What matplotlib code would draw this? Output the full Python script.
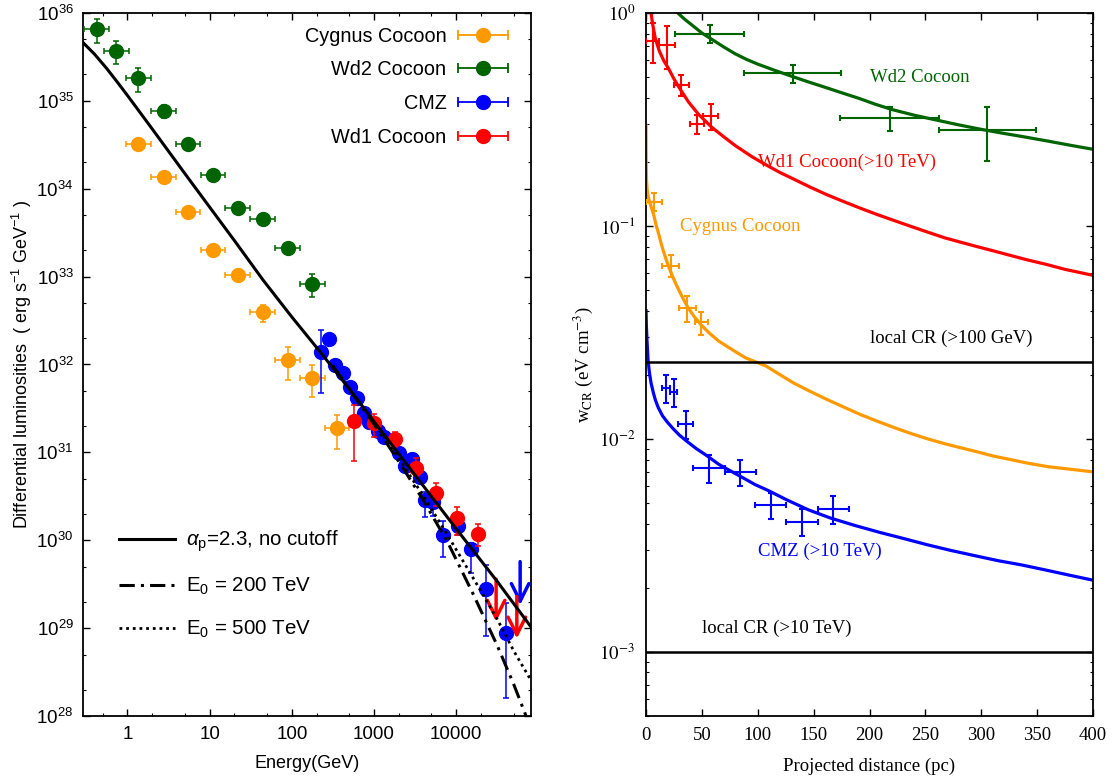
import matplotlib
matplotlib.use("Agg")
import matplotlib.pyplot as plt
from matplotlib.container import ErrorbarContainer
from matplotlib.legend_handler import HandlerBase
from matplotlib.lines import Line2D
from matplotlib.ticker import LogLocator, NullFormatter, FixedLocator, MultipleLocator, NullLocator

plt.rcParams['font.family'] = ['Liberation Sans', 'DejaVu Sans']
plt.rcParams['mathtext.fontset'] = 'custom'
plt.rcParams['mathtext.rm'] = 'Liberation Sans'
plt.rcParams['mathtext.it'] = 'Liberation Sans:italic'
plt.rcParams['mathtext.bf'] = 'Liberation Sans:bold'
plt.rcParams['mathtext.sf'] = 'Liberation Sans'
SERIF = ['Liberation Serif', 'DejaVu Serif']

ORANGE = '#ff9900'
GREEN = '#006400'
BLUE = '#0000ff'
RED = '#ff0000'

# ---------------- left panel data (energy in GeV, luminosity in erg/s/GeV) ----------------
bin_halfwidth_dex = 0.15

cyg_E = [1.36, 2.75, 5.47, 11.0, 22.0, 44.0, 89.0, 177.0, 355.0]
cyg_L = [3.24e34, 1.36e34, 5.4e33, 2.03e33, 1.05e33, 3.93e32, 1.12e32, 7.1e31, 1.87e31]
cyg_Lerr = [1.6e33, 7e32, 3e32, 1.2e32, 6e31, 8.6e31, 4.5e31, 2.85e31, 7.7e30]

wd2_E = [0.42, 0.73, 1.36, 2.75, 5.47, 11.0, 22.0, 44.0, 89.0, 177.0]
wd2_L = [6.5e35, 3.7e35, 1.8e35, 7.7e34, 3.26e34, 1.44e34, 6.0e33, 4.5e33, 2.1e33, 8.2e32]
wd2_Lerr = [2.0e35, 1.1e35, 5.4e34, 1.3e34, 2.6e33, 1.2e33, 5e32, 3.6e32, 1.7e32, 2.4e32]

cmz_E = [225, 285, 333, 415, 508, 625, 750, 865, 1110, 1310, 2000, 2400, 2890, 3630,
         4190, 5250, 6980, 10550, 15000, 23200, 40200]
cmz_L = [1.40e32, 1.97e32, 9.8e31, 7.95e31, 5.55e31, 4.2e31, 2.8e31, 2.2e31, 1.75e31, 1.48e31,
         9.8e30, 6.9e30, 8.4e30, 5.2e30, 2.9e30, 2.7e30, 1.14e30, 1.45e30, 7.9e29, 2.82e29, 8.7e28]
cmz_Llo = [9.3e31, 1.2e31, 6e30, 5e30, 4e30, 3e30, 2e30, 1.6e30, 1.2e30, 1e30, 8e29, 6e29,
           7e29, 6e29, 1.05e30, 8e29, 5e29, 3e29, 3.7e29, 2.0e29, 7.1e28]
cmz_Lhi = [1.08e32, 1.2e31, 6e30, 5e30, 4e30, 3e30, 2e30, 1.6e30, 1.2e30, 1e30, 8e29, 6e29,
           7e29, 6e29, 6e29, 6e29, 5e29, 3e29, 1.4e29, 2.4e29, 1.05e29]

wd1_E = [564, 1010, 1800, 3220, 5700, 10200, 18200]
wd1_L = [2.29e31, 2.16e31, 1.40e31, 6.7e30, 3.45e30, 1.80e30, 1.19e30]
wd1_Llo = [1.5e31, 6.6e30, 2.5e30, 1.3e30, 1.0e30, 6.5e29, 3.2e29]
wd1_Lhi = [1.17e31, 6e30, 3e30, 1.9e30, 1.0e30, 5.8e29, 3.4e29]

# upper limits (start value, arrow tip)
cmz_ul_E = [60000]
cmz_ul_L = [5.7e29]
cmz_ul_tip = [1.83e29]
wd1_ul_E = [30600, 54700]
wd1_ul_L = [3.6e29, 2.28e29]
wd1_ul_tip = [1.18e29, 7.6e28]

# model curves
nocut_E = [0.29, 0.398, 0.562, 0.794, 1.0, 2.0, 5.01, 10.0, 20.0, 44.7, 100.0, 227.0, 501.0,
           1000.0, 3162.0, 1.0e4, 3.16e4, 8.2e4]
nocut_L = [4.57e35, 3.39e35, 2.32e35, 1.53e35, 1.15e35, 4.79e34, 1.48e34, 6.17e33, 2.57e33,
           9.12e32, 3.47e32, 1.35e32, 5.25e31, 2.24e31, 5.50e30, 1.35e30, 3.39e29, 1.02e29]
cut200_E = [316, 1000, 1995, 3981, 7943, 15849, 31623, 50119, 70795]
cut200_L = [9.6e31, 2.1e31, 7.9e30, 2.85e30, 9.33e29, 2.51e29, 6.31e28, 2.29e28, 1.0e28]
cut500_E = [316, 1000, 1995, 3981, 7943, 15849, 31623, 50119, 82000]
cut500_L = [9.7e31, 2.2e31, 8.5e30, 3.2e30, 1.12e30, 3.80e29, 1.26e29, 5.50e28, 2.51e28]

# ---------------- right panel data (distance in pc, w_CR in eV/cm^3) ----------------
wd2_d = [56.9, 131.1, 218.0, 305.5]
wd2_w = [0.80, 0.521, 0.32, 0.281]
wd2_derr = [30.8, 43.6, 44.0, 43.7]
wd2_werr = [0.08, 0.05, 0.04, 0.08]

wd1_d = [6.0, 18.9, 31.7, 45.8, 57.8]
wd1_w = [0.741, 0.707, 0.459, 0.301, 0.329]
wd1_derr = [5.7, 7.0, 6.6, 6.4, 6.4]
wd1_werr = [0.16, 0.16, 0.05, 0.032, 0.046]

cyg_d = [6.95, 22.1, 37.0, 49.6]
cyg_w = [0.130, 0.0651, 0.041, 0.0352]
cyg_derr = [7.0, 7.4, 7.6, 6.0]
cyg_werr = [0.013, 0.0078, 0.0057, 0.0043]

cmz_d = [17.7, 24.6, 35.4, 56.2, 84.4, 111.5, 139.6, 167.5]
cmz_w = [0.0174, 0.01667, 0.01176, 0.00729, 0.00698, 0.0049, 0.00409, 0.00469]
cmz_derr = [3.6, 3.5, 7.0, 14.2, 13.8, 13.8, 14.0, 14.0]
cmz_werr = [0.0026, 0.0025, 0.0018, 0.0011, 0.001, 0.00068, 0.0006, 0.0007]

wd2_curve_d = [28.4, 35, 42, 50, 60, 70, 80, 90, 100, 115, 130, 145, 160, 175, 190, 205, 220,
               240, 260, 280, 300, 320, 340, 360, 380, 400]
wd2_curve_w = [1.0, 0.93, 0.87, 0.805, 0.745, 0.69, 0.642, 0.605, 0.575, 0.538, 0.505, 0.475,
               0.448, 0.422, 0.398, 0.373, 0.352, 0.331, 0.314, 0.298, 0.284, 0.272, 0.261,
               0.250, 0.239, 0.229]

wd1_curve_d = [4.5, 6, 8.4, 12, 16, 20, 25, 30, 38, 47, 59, 70, 80, 95, 107, 120, 132, 147, 162,
               177, 192, 207, 222, 237, 252, 267, 281, 296, 311, 326, 341, 358, 375, 400]
wd1_curve_w = [1.0, 0.88, 0.755, 0.66, 0.595, 0.55, 0.49, 0.443, 0.382, 0.334, 0.290, 0.261,
               0.238, 0.211, 0.194, 0.178, 0.166, 0.152, 0.140, 0.130, 0.121, 0.113, 0.106,
               0.0995, 0.0935, 0.0880, 0.0840, 0.0800, 0.0763, 0.0727, 0.0693, 0.0660, 0.0625,
               0.0586]

cyg_curve_d = [0, 0.15, 0.4, 1, 2, 3.5, 5, 7, 9, 11.4, 14, 17.4, 20, 23.4, 27, 32.3, 37, 42.8,
               50, 56.3, 65, 74.3, 82, 89.2, 98, 107.2, 120, 132, 147, 162, 177, 192, 207, 222,
               237, 252, 267, 281, 296, 311, 326, 341, 360, 380, 400]
cyg_curve_w = [0.297, 0.2, 0.165, 0.148, 0.137, 0.128, 0.121, 0.112, 0.101, 0.0914, 0.081,
               0.071, 0.065, 0.0585, 0.053, 0.0465, 0.0418, 0.0377, 0.0340, 0.0315, 0.0288,
               0.0268, 0.0253, 0.0240, 0.0230, 0.0220, 0.0200, 0.0183, 0.0167, 0.0153, 0.0141,
               0.0130, 0.0121, 0.0113, 0.0106, 0.0100, 0.0095, 0.0091, 0.0087, 0.0083, 0.0080,
               0.0077, 0.0074, 0.0072, 0.0070]

cmz_curve_d = [0, 0.3, 0.9, 1.8, 3, 4.5, 6.5, 8.4, 11, 14.9, 19, 24, 30, 37, 45, 55, 65, 75, 86,
               97.6, 110, 125, 145, 165, 187, 209, 231, 252, 272, 294, 315, 336, 358, 379, 400]
cmz_curve_w = [0.040, 0.034, 0.0288, 0.0235, 0.0205, 0.0183, 0.0165, 0.0152, 0.0140, 0.0128,
               0.0120, 0.0112, 0.0104, 0.0097, 0.0090, 0.0083, 0.0076, 0.0071, 0.0066, 0.0061,
               0.0057, 0.0052, 0.00465, 0.00425, 0.00392, 0.00364, 0.00340, 0.00318, 0.00300,
               0.00283, 0.00268, 0.00256, 0.00242, 0.00229, 0.00217]

local_cr_levels = [0.023, 0.001]
local_cr_labels = ['local CR (>100 GeV)', 'local CR (>10 TeV)']
local_cr_label_pos = [(200.0, 0.0295), (50.0, 0.00129)]

curve_labels = ['Wd2 Cocoon', 'Wd1 Cocoon(>10 TeV)', 'Cygnus Cocoon', 'CMZ (>10 TeV)']
curve_label_pos = [(200.7, 0.498), (100.0, 0.1986), (30.2, 0.0989), (99.8, 0.00297)]
curve_label_colors = [GREEN, RED, ORANGE, BLUE]


class CapHandler(HandlerBase):
    # gnuplot-style key sample: horizontal bar with end caps and a dot in the middle
    def create_artists(self, legend, orig_handle, xdescent, ydescent, width, height, fontsize, trans):
        c = orig_handle[0].get_color()
        y = height / 2 - ydescent
        x0, x1 = -xdescent, -xdescent + width
        bar = Line2D([x0, x1], [y, y], color=c, lw=1.3)
        caps = Line2D([x0, x1], [y, y], ls='none', marker='|', ms=7, mew=1.3, color=c)
        dot = Line2D([(x0 + x1) / 2], [y], ls='none', marker='o', ms=10, color=c)
        for a in (bar, caps, dot):
            a.set_transform(trans)
        return [bar, caps, dot]


def xerr_dex(E, dex):
    return [[e * (1 - 10 ** -dex) for e in E], [e * (10 ** dex - 1) for e in E]]


fig = plt.figure(figsize=(11.15, 7.8), dpi=100)
axL = fig.add_axes([0.0747, 0.0821, 0.4018, 0.9013])
axR = fig.add_axes([0.5794, 0.0821, 0.4009, 0.9013])

# ---------------- left panel ----------------
ekw = dict(fmt='o', ms=10, elinewidth=1.1, capsize=2.2, capthick=1.1)
h_cyg = axL.errorbar(cyg_E, cyg_L, xerr=xerr_dex(cyg_E, bin_halfwidth_dex), yerr=cyg_Lerr,
                     color=ORANGE, zorder=3, **ekw)
h_wd2 = axL.errorbar(wd2_E, wd2_L, xerr=xerr_dex(wd2_E, bin_halfwidth_dex), yerr=wd2_Lerr,
                     color=GREEN, zorder=3, **ekw)
h_cmz = axL.errorbar(cmz_E, cmz_L, yerr=[cmz_Llo, cmz_Lhi], color=BLUE, zorder=3, **ekw)
h_wd1 = axL.errorbar(wd1_E, wd1_L, yerr=[wd1_Llo, wd1_Lhi], color=RED, zorder=3.1, **ekw)

for E, L0, L1 in zip(cmz_ul_E, cmz_ul_L, cmz_ul_tip):
    axL.annotate('', xy=(E, L1), xytext=(E, L0),
                 arrowprops=dict(arrowstyle='->,head_length=0.7,head_width=0.35', color=BLUE,
                                 lw=2.5, shrinkA=0, shrinkB=0, mutation_scale=18), zorder=4)
for E, L0, L1 in zip(wd1_ul_E, wd1_ul_L, wd1_ul_tip):
    axL.annotate('', xy=(E, L1), xytext=(E, L0),
                 arrowprops=dict(arrowstyle='->,head_length=0.7,head_width=0.35', color=RED,
                                 lw=2.5, shrinkA=0, shrinkB=0, mutation_scale=18), zorder=4)

l_nocut, = axL.plot(nocut_E, nocut_L, color='black', lw=2.2, zorder=5)
l_200, = axL.plot(cut200_E, cut200_L, color='black', lw=2.2, dashes=(5, 2, 1, 2), zorder=5)
l_500, = axL.plot(cut500_E, cut500_L, color='black', lw=2.0, dashes=(1, 1.4), zorder=5)

axL.set_xscale('log')
axL.set_yscale('log')
axL.set_xlim(0.29, 8.2e4)
axL.set_ylim(1e28, 1e36)

axL.xaxis.set_major_locator(FixedLocator([1, 10, 100, 1000, 10000]))
axL.set_xticklabels(['1', '10', '100', '1000', '10000'])
axL.xaxis.set_minor_locator(LogLocator(base=10, subs=(2.0, 5.0), numticks=20))
axL.xaxis.set_minor_formatter(NullFormatter())
yt = [10.0 ** k for k in range(28, 37)]
axL.yaxis.set_major_locator(FixedLocator(yt))
axL.set_yticklabels([r'$10^{%d}$' % k for k in range(28, 37)])
axL.yaxis.set_minor_locator(LogLocator(base=10, subs=(2.0, 5.0), numticks=20))
axL.yaxis.set_minor_formatter(NullFormatter())
axL.tick_params(which='both', direction='in', top=True, right=True, labelsize=13.5, pad=7)
axL.tick_params(which='major', length=5, width=1)
axL.tick_params(which='minor', length=2.5, width=0.8)
for s in axL.spines.values():
    s.set_linewidth(1.3)

axL.set_xlabel('Energy(GeV)', fontsize=13, labelpad=9)
axL.set_ylabel(r'Differential luminosities  ( erg s$^{-1}$ GeV$^{-1}$ )', fontsize=13)
axL.yaxis.set_label_coords(-0.11, 0.5)

leg1 = axL.legend([h_cyg, h_wd2, h_cmz, h_wd1], ['Cygnus Cocoon', 'Wd2 Cocoon', 'CMZ', 'Wd1 Cocoon'],
                  loc='upper right', bbox_to_anchor=(0.966, 0.992), borderaxespad=0,
                  frameon=False, fontsize=14.3, markerfirst=False, handlelength=2.5,
                  handletextpad=0.6, labelspacing=0.74,
                  handler_map={ErrorbarContainer: CapHandler()})
axL.add_artist(leg1)
axL.legend([l_nocut, l_200, l_500],
           [r'$\alpha_{\rm p}$=2.3, no cutoff', r'E$_0$ = 200 TeV', r'E$_0$ = 500 TeV'],
           loc='upper left', bbox_to_anchor=(0.061, 0.278), borderaxespad=0,
           frameon=False, fontsize=14.8, handlelength=2.75, handletextpad=0.5, labelspacing=1.05)

# ---------------- right panel ----------------
rkw = dict(fmt='none', elinewidth=1.5, capsize=2.5, capthick=1.5, zorder=3)
axR.plot(wd2_curve_d, wd2_curve_w, color=GREEN, lw=2.3)
axR.plot(wd1_curve_d, wd1_curve_w, color=RED, lw=2.3)
axR.plot(cyg_curve_d, cyg_curve_w, color=ORANGE, lw=2.3)
axR.plot(cmz_curve_d, cmz_curve_w, color=BLUE, lw=2.3)
axR.errorbar(wd2_d, wd2_w, xerr=wd2_derr, yerr=wd2_werr, ecolor=GREEN, **rkw)
axR.errorbar(wd1_d, wd1_w, xerr=wd1_derr, yerr=wd1_werr, ecolor=RED, **rkw)
axR.errorbar(cyg_d, cyg_w, xerr=cyg_derr, yerr=cyg_werr, ecolor=ORANGE, **rkw)
axR.errorbar(cmz_d, cmz_w, xerr=cmz_derr, yerr=cmz_werr, ecolor=BLUE, **rkw)

for lev in local_cr_levels:
    axR.axhline(lev, color='black', lw=1.8)
for txt, (x, y) in zip(local_cr_labels, local_cr_label_pos):
    axR.text(x, y, txt, fontsize=13.5, family=SERIF, va='center', ha='left')
for txt, (x, y), c in zip(curve_labels, curve_label_pos, curve_label_colors):
    axR.text(x, y, txt, fontsize=13.5, family=SERIF, va='center', ha='left', color=c)

axR.set_yscale('log')
axR.set_xlim(0, 400)
axR.set_ylim(5e-4, 1)
axR.xaxis.set_major_locator(MultipleLocator(50))
axR.xaxis.set_minor_locator(NullLocator())
rt = [1e-3, 1e-2, 1e-1, 1e0]
axR.yaxis.set_major_locator(FixedLocator(rt))
axR.set_yticklabels([r'$10^{%d}$' % k for k in (-3, -2, -1, 0)])
axR.yaxis.set_minor_locator(LogLocator(base=10, subs=[2, 3, 4, 5, 6, 7, 8, 9], numticks=20))
axR.yaxis.set_minor_formatter(NullFormatter())
axR.tick_params(which='both', direction='in', top=True, right=True, labelsize=13.5, pad=8)
axR.tick_params(which='major', length=5, width=1)
axR.tick_params(which='minor', length=2.5, width=0.8)
for lab in axR.get_xticklabels() + axR.get_yticklabels():
    lab.set_family(SERIF)
    lab.set_math_fontfamily('stix')
for s in axR.spines.values():
    s.set_linewidth(1.3)

axR.set_xlabel('Projected distance (pc)', fontsize=13.5, family=SERIF, labelpad=10)
ylab = axR.set_ylabel(r'w$_{\rm CR}$ (eV cm$^{-3}$)', fontsize=13.5, family=SERIF)
ylab.set_math_fontfamily('stix')
axR.yaxis.set_label_coords(-0.115, 0.5)

fig.savefig('out.png', dpi=100)
